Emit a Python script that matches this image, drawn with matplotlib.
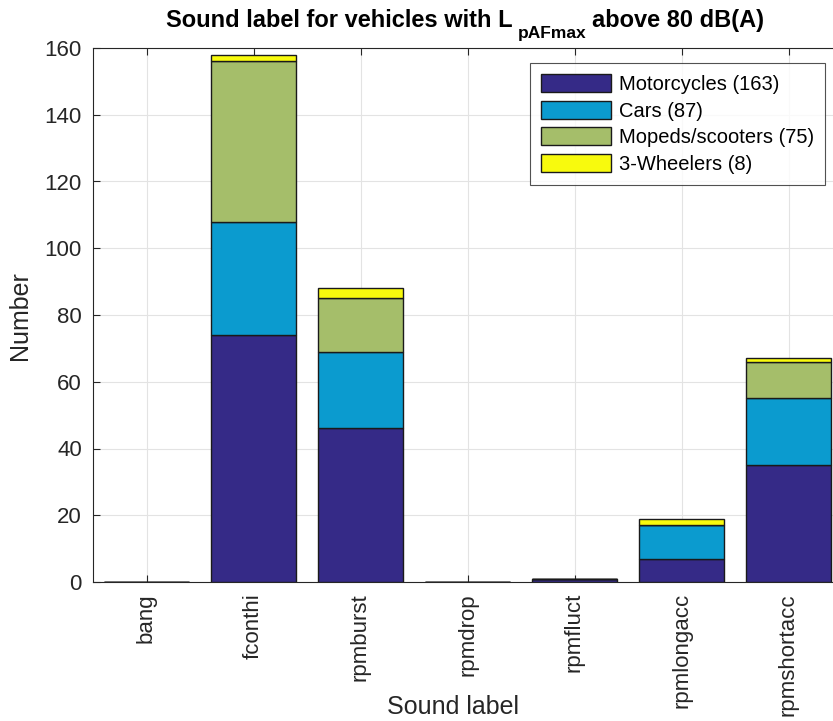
import matplotlib
matplotlib.use('Agg')
import numpy as np
import matplotlib.pyplot as plt

# Sound label counts per vehicle category
labels = ['bang', 'fconthi', 'rpmburst', 'rpmdrop', 'rpmfluct', 'rpmlongacc', 'rpmshortacc']
motorcycles = [0, 74, 46, 0, 1, 7, 35]
cars = [0, 34, 23, 0, 0, 10, 20]
mopeds = [0, 48, 16, 0, 0, 0, 11]
wheelers3 = [0, 2, 3, 0, 0, 2, 1]

series = [
    ('Motorcycles (163)', motorcycles, '#352a87'),
    ('Cars (87)', cars, '#0b9bcf'),
    ('Mopeds/scooters (75)', mopeds, '#a5be6a'),
    ('3-Wheelers (8)', wheelers3, '#f8fa0d'),
]

plt.rcParams['font.family'] = ['Liberation Sans', 'DejaVu Sans']

W, H = 833, 721
fig = plt.figure(figsize=(W / 100, H / 100), dpi=100)
ax = fig.add_axes([93 / W, 139 / H, 749 / W, 534 / H])

x = np.arange(1, len(labels) + 1)
bottom = np.zeros(len(labels))
for name, vals, col in series:
    vals = np.array(vals, dtype=float)
    ax.bar(x, vals, width=0.8, bottom=bottom, color=col, edgecolor='#1a1a1a',
           linewidth=1.0, label=name, zorder=3)
    bottom += vals

ax.set_xlim(0.5, 7.5)
ax.set_ylim(0, 160)
ax.set_yticks(np.arange(0, 161, 20))
ax.set_xticks(x)
ax.set_xticklabels(labels, rotation=90)
ax.tick_params(axis='both', labelsize=16, colors='#262626', direction='in',
               length=5, top=True, right=True)
ax.tick_params(axis='x', pad=8)
ax.tick_params(axis='y', pad=8)
ax.grid(True, color='#e3e3e3', linewidth=0.8, zorder=0)
for s in ax.spines.values():
    s.set_color('#262626')
    s.set_linewidth(0.8)

fig.text(20 / W, 1 - 316 / H, 'Number', rotation=90, fontsize=18,
         color='#262626', ha='center', va='center')
fig.text(453 / W, 1 - 707 / H, 'Sound label', fontsize=18,
         color='#262626', ha='center', va='center')

# title with a lowered subscript, built from three pieces
renderer = fig.canvas.get_renderer()
pieces = [('Sound label for vehicles with L', 17, 27),
          ('pAFmax', 12.5, 38),
          ('above 80 dB(A)', 17, 27)]
gaps = [5, 5]
texts = []
for s, fs, base in pieces:
    t = fig.text(0, 1 - base / H, s, fontsize=fs, fontweight='bold',
                 color='black', ha='left', va='baseline')
    texts.append(t)
widths = [t.get_window_extent(renderer).width for t in texts]
cx = 465 - (sum(widths) + sum(gaps)) / 2
for i, t in enumerate(texts):
    t.set_x(cx / W)
    cx += widths[i] + (gaps[i] if i < len(gaps) else 0)

leg = ax.legend(loc='upper left', bbox_to_anchor=(530 / W, 1 - 63 / H),
                bbox_transform=fig.transFigure, fontsize=14.5, frameon=True,
                fancybox=False, edgecolor='#262626', handlelength=3.45,
                handleheight=1.0, labelspacing=0.33, borderpad=0.55,
                handletextpad=0.4, borderaxespad=0)
leg.get_frame().set_linewidth(0.8)

fig.savefig('out.png', dpi=100)
